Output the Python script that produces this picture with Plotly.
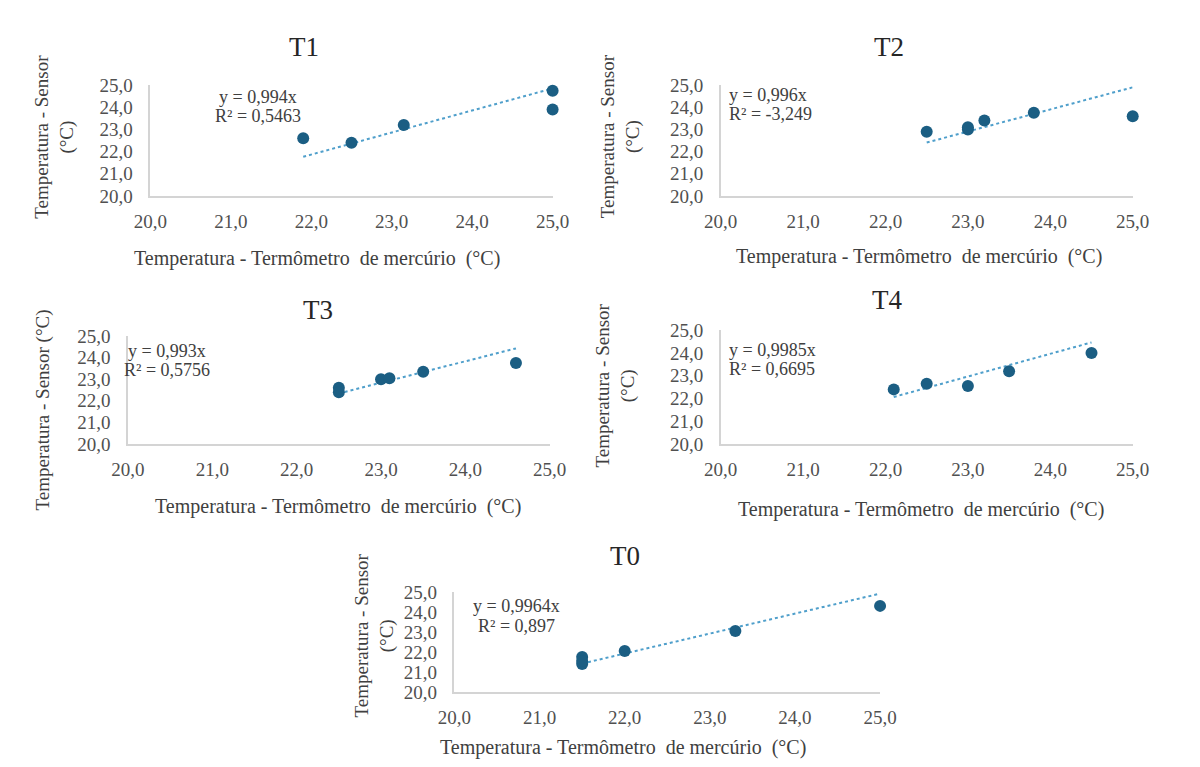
import plotly.graph_objects as go

W, H = 1200, 767

# ---------------- data ----------------
panels = ["T1", "T2", "T3", "T4", "T0"]

t1_x = [21.9, 22.5, 23.15, 25.0, 25.0]
t1_y = [22.6, 22.4, 23.2, 24.75, 23.9]
t2_x = [22.5, 23.0, 23.0, 23.2, 23.8, 25.0]
t2_y = [22.9, 23.0, 23.1, 23.4, 23.75, 23.6]
t3_x = [22.5, 22.5, 23.0, 23.1, 23.5, 24.6]
t3_y = [22.6, 22.4, 23.0, 23.05, 23.35, 23.75]
t4_x = [22.1, 22.5, 23.0, 23.5, 24.5]
t4_y = [22.4, 22.65, 22.55, 23.2, 24.0]
t0_x = [21.5, 21.5, 21.5, 22.0, 23.3, 25.0]
t0_y = [21.75, 21.4, 21.55, 22.05, 23.05, 24.3]

slopes = [0.994, 0.996, 0.993, 0.9985, 0.9964]
eq_lines = ["y = 0,994x", "y = 0,996x", "y = 0,993x", "y = 0,9985x", "y = 0,9964x"]
r2_lines = ["R² = 0,5463", "R² = -3,249", "R² = 0,5756", "R² = 0,6695", "R² = 0,897"]

tick_vals = [20, 21, 22, 23, 24, 25]
tick_text = ["20,0", "21,0", "22,0", "23,0", "24,0", "25,0"]

x_title = "Temperatura - Termômetro \u00a0de mercúrio \u00a0(°C)"
y_title_two = "Temperatura - Sensor<br>(°C)"
y_title_one = "Temperatura - Sensor (°C)"

xs = [t1_x, t2_x, t3_x, t4_x, t0_x]
ys = [t1_y, t2_y, t3_y, t4_y, t0_y]

# ---------------- layout (pixels) ----------------
# plot area: left, right, top, bottom
boxes = [
    (129, 543, 69, 183),
    (716, 1140, 69, 183),
    (106, 540, 327, 438),
    (716, 1140, 321, 438),
    (442, 880, 590, 693),
]
title_pos = [(287, 30), (889, 30), (302, 300), (887, 290), (617, 553)]
xtitle_pos = [(300, 247), (920, 245), (322, 502), (922, 505), (615, 750)]
ytitle_pos = [(31, 122), (613, 122), (18, 403), (608, 378), (360, 635)]
ytitle_text = [y_title_two, y_title_two, y_title_one, y_title_two, y_title_two]
eq_pos = [(240, 81, 101, "center"), (722, 79, 99, "left"), (146, 342, 362, "center"),
          (722, 341, 361, "left"), (506, 605, 625, "center")]

FONT = "Liberation Serif"
MARK = "#1B5E83"
TREND = "#4F9FCB"
AXC = "#D4D4D4"
TXT = "#404040"

def px(x):
    return x / W

def py(y):
    return 1 - y / H

fig = go.Figure()
annotations = []
layout = {}

for i, name in enumerate(panels):
    n = i + 1
    xa = "x" if n == 1 else f"x{n}"
    ya = "y" if n == 1 else f"y{n}"
    l, r, t, b = boxes[i]
    x = xs[i]
    y = ys[i]
    xmin, xmax = min(x), max(x)
    fig.add_trace(go.Scatter(
        x=[xmin, xmax], y=[slopes[i] * xmin, slopes[i] * xmax],
        mode="lines", line=dict(color=TREND, width=2, dash="dot"),
        xaxis=xa, yaxis=ya, showlegend=False, hoverinfo="skip", cliponaxis=False))
    fig.add_trace(go.Scatter(
        x=x, y=y, mode="markers",
        marker=dict(color=MARK, size=12, line=dict(width=0)),
        xaxis=xa, yaxis=ya, showlegend=False, cliponaxis=False))

    axis_common = dict(range=[20, 25], tickvals=tick_vals, ticktext=tick_text,
                       showgrid=False, zeroline=False, showline=True,
                       linecolor=AXC, linewidth=1.5,
                       tickfont=dict(family=FONT, size=19, color="#505050"),
                       ticks="outside", tickcolor="rgba(0,0,0,0)")
    layout["xaxis" if n == 1 else f"xaxis{n}"] = dict(
        domain=[px(l), px(r)], anchor=ya, ticklen=7, **axis_common)
    layout["yaxis" if n == 1 else f"yaxis{n}"] = dict(
        domain=[py(b), py(t)], anchor=xa, ticklen=12, **axis_common)

    tx, ty = title_pos[i]
    annotations.append(dict(text=name, x=px(tx), y=py(ty), xref="paper", yref="paper",
                            showarrow=False, xanchor="center", yanchor="middle",
                            font=dict(family=FONT, size=27, color="#262626")))
    xtx, xty = xtitle_pos[i]
    annotations.append(dict(text=x_title, x=px(xtx), y=py(xty),
                            xref="paper", yref="paper", showarrow=False,
                            xanchor="center", yanchor="middle",
                            font=dict(family=FONT, size=20, color=TXT)))
    ytx, yty = ytitle_pos[i]
    annotations.append(dict(text=ytitle_text[i], x=px(ytx), y=py(yty),
                            xref="paper", yref="paper", showarrow=False, textangle=-90,
                            xanchor="center", yanchor="middle",
                            font=dict(family=FONT, size=19, color=TXT)))
    ex, ey1, ey2, al = eq_pos[i]
    for txt, yy in ((eq_lines[i], ey1), (r2_lines[i], ey2)):
        annotations.append(dict(text=txt, x=px(ex), y=py(yy), xref="paper", yref="paper",
                                showarrow=False, xanchor=al, yanchor="middle",
                                font=dict(family=FONT, size=18, color=TXT)))

fig.update_layout(width=W, height=H, margin=dict(l=0, r=0, t=0, b=0),
                  paper_bgcolor="white", plot_bgcolor="white",
                  annotations=annotations, **layout)

fig.write_html("out.html")
